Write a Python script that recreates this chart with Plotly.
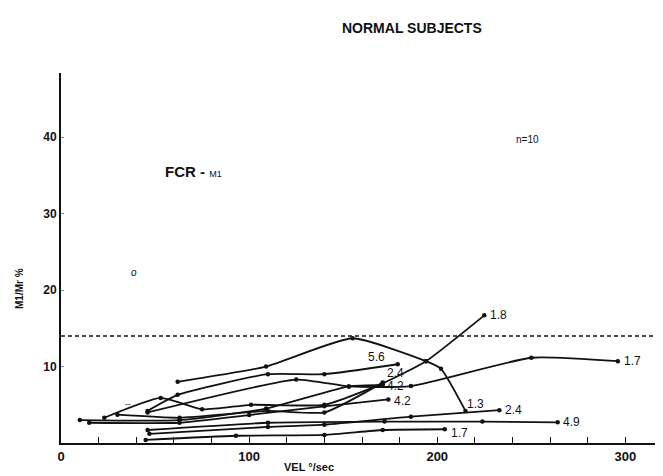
import plotly.graph_objects as go

# ---- data ----
labels = ["1.3", "5.6", "1.7", "1.8", "2.4", "4.2", "4.2", "2.4", "4.9", "1.7"]
xs = [
    [62, 109, 155, 194, 202, 215],
    [46, 62, 110, 140, 179],
    [46, 125, 153, 186, 250, 296],
    [23, 53, 75, 101, 140, 171, 194, 225],
    [30, 63, 110, 140, 171],
    [10, 63, 109, 153, 171],
    [15, 63, 100, 140, 174],
    [47, 110, 140, 186, 233],
    [46, 110, 172, 224, 264],
    [45, 93, 140, 171, 204],
]
ys = [
    [8.0, 10.0, 13.7, 10.7, 9.7, 4.2],
    [4.2, 6.3, 9.0, 9.0, 10.3],
    [4.0, 8.3, 7.4, 7.45, 11.15, 10.7],
    [3.3, 5.9, 4.4, 5.0, 5.0, 7.8, 10.7, 16.7],
    [3.7, 3.3, 4.2, 4.0, 7.9],
    [3.0, 3.0, 4.5, 7.4, 7.6],
    [2.65, 2.65, 3.66, 4.8, 5.7],
    [1.2, 2.1, 2.4, 3.45, 4.3],
    [1.7, 2.65, 2.8, 2.8, 2.7],
    [0.4, 0.95, 1.05, 1.7, 1.8],
]
# label offsets (dx, dy in data units) relative to last point
label_pos = [
    (0, 0.9), (-17, 1.0), (2, 0), (2, 0), (1, 1.3),
    (1, -0.2), (2, -0.2), (2, 0), (2, 0), (2, -0.5),
]
ref_level = 14
x_ticks = [0, 100, 200, 300]
y_ticks = [10, 20, 30, 40]

FONT = "Liberation Sans, Arial, sans-serif"

fig = go.Figure()
for x, y in zip(xs, ys):
    fig.add_trace(go.Scatter(
        x=x, y=y, mode="lines+markers",
        line=dict(color="#111", width=1.8, shape="spline", smoothing=0.5),
        marker=dict(color="#111", size=4.5),
        showlegend=False, hoverinfo="skip"))

# dashed reference line
fig.add_trace(go.Scatter(x=[0, 320], y=[ref_level, ref_level], mode="lines",
                         line=dict(color="#111", width=1.3, dash="4px,3px"),
                         showlegend=False, hoverinfo="skip"))

ann = []
for lab, x, y, (dx, dy) in zip(labels, xs, ys, label_pos):
    ann.append(dict(x=x[-1] + dx, y=y[-1] + dy, text=lab, showarrow=False,
                    xanchor="left", yanchor="middle",
                    font=dict(family=FONT, size=12, color="#111")))

ann += [
    dict(x=39, y=22.3, text="<i>o</i>", showarrow=False,
         font=dict(family=FONT, size=10, color="#111")),
    dict(x=35.5, y=5.1, text="--", showarrow=False,
         font=dict(family=FONT, size=9, color="#333")),
    dict(x=248, y=39.7, text="n=10", showarrow=False, xanchor="center", yanchor="middle",
         font=dict(family=FONT, size=10, color="#111")),
    dict(x=54, y=35.5, text="<b>FCR -</b> <span style='font-size:9px'>M1</span>",
         showarrow=False, xanchor="left", yanchor="middle",
         font=dict(family=FONT, size=15, color="#111")),
]
# page is drawn with an ~8px offset; positions below are screen pixels
OFF = 8
W, H = 663 - OFF, 476 - OFF
L, R, T, B = 61 - OFF, 0, 73 - OFF, 33
paper_texts = [
    (412, 28, "<b>NORMAL SUBJECTS</b>", 14, 0),
    (19, 289, "<b>M1/Mr %</b>", 10, -90),
    (309, 467, "<b>VEL °/sec</b>", 11, 0),
]
for sx, sy, txt, fs, ang in paper_texts:
    fx, fy = sx - OFF, sy - OFF
    ann.append(dict(x=(fx - L) / (W - L - R), y=1 - (fy - T) / (H - T - B),
                    xref="paper", yref="paper", text=txt, textangle=ang,
                    xanchor="center", yanchor="middle", showarrow=False,
                    font=dict(family=FONT, size=fs, color="#111")))

fig.update_layout(
    width=W, height=H,
    margin=dict(l=L, r=R, t=T, b=B),
    paper_bgcolor="white", plot_bgcolor="white",
    annotations=ann,
    font=dict(family=FONT, color="#111"),
)
fig.update_xaxes(range=[0, 320], showgrid=False, zeroline=False,
                 showline=True, linecolor="#111", linewidth=2,
                 tickvals=x_ticks, ticktext=[f"<b>{v}</b>" for v in x_ticks],
                 ticks="inside", ticklen=6, tickwidth=1.2, tickcolor="#111",
                 minor=dict(dtick=20, ticks="inside", ticklen=6, tickwidth=1.2, tickcolor="#111"),
                 tickfont=dict(family=FONT, size=13, color="#111"))
fig.update_yaxes(range=[0, 48.4], showgrid=False, zeroline=False,
                 showline=True, linecolor="#111", linewidth=2,
                 tickvals=y_ticks, ticktext=[f"<b>{v}</b>" for v in y_ticks],
                 ticks="inside", ticklen=3, tickwidth=1, tickcolor="#888",
                 tickfont=dict(family=FONT, size=12, color="#111"))

fig.write_html("out.html")
